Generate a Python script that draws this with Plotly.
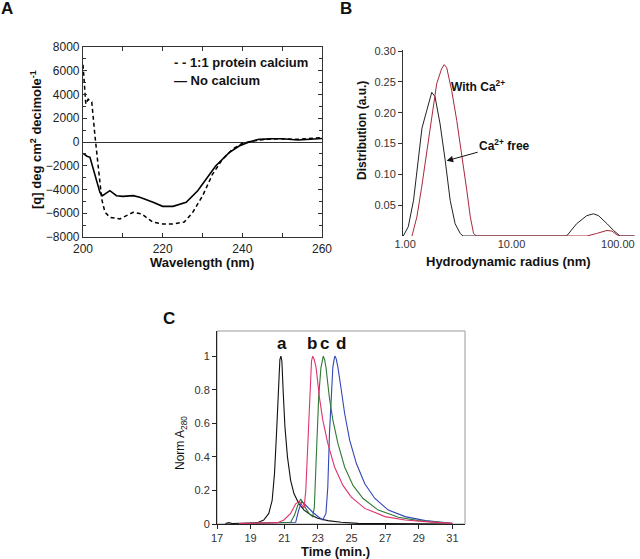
import plotly.graph_objects as go

W, H = 640, 559
FONT = "Liberation Sans, Arial, sans-serif"

# ---------------- Panel A: CD spectra ----------------
wl_nocal = [200, 200.25, 201.0, 201.75, 203.0, 204.25, 204.9, 206.75, 208.4, 210.0, 212.6, 214.25,
            217.6, 220.0, 222.6, 225.9, 228.8, 231.3, 233.3, 236.7, 239.2, 241.7, 244.2, 247.5,
            250, 254, 258, 260]
cd_nocal = [-950, -1010, -1200, -1290, -2840, -4240, -4520, -4100, -4520, -4580, -4520, -4660,
            -5080, -5420, -5420, -5080, -4100, -2980, -2020, -900, -340, 0, 225, 280,
            280, 170, 280, 300]

wl_cal = [200, 200.3, 200.7, 201.3, 201.8, 202.2, 203.0, 203.8, 204.7, 205.5, 206.75, 209.25,
          212.6, 214.7, 217.6, 220.0, 222.6, 225.4, 227.5, 230, 232.5, 235, 237.5, 240,
          242.5, 245.8, 249, 254, 260]
cd_cal = [6500, 5000, 3200, 3600, 3500, 3370, 530, -2000, -4800, -5900, -6340, -6480,
          -5920, -6060, -6760, -6900, -6900, -6740, -5950, -4550, -2720, -1460, -620, -110,
          80, 225, 280, 225, 365]

# ---------------- Panel B: DLS ----------------
r_free = [0.96, 1.07, 1.2, 1.33, 1.44, 1.6, 1.78, 1.91, 2.13, 2.38, 2.65, 2.95, 3.3, 3.5,
          10, 33, 41, 51, 59, 65.8, 79, 91, 105, 145]
d_free = [0, 0.015, 0.058, 0.128, 0.175, 0.204, 0.233, 0.226, 0.182, 0.123, 0.058, 0.02, 0.004, 0,
          0, 0, 0.02, 0.033, 0.036, 0.033, 0.02, 0.009, 0, 0]

r_ca = [1.16, 1.29, 1.43, 1.6, 1.78, 1.98, 2.2, 2.33, 2.46, 2.74, 3.06, 3.41, 3.8, 4.1, 4.4, 4.7,
        10, 51, 63, 79, 88, 98, 105, 140]
d_ca = [0, 0.031, 0.079, 0.139, 0.193, 0.247, 0.271, 0.278, 0.273, 0.236, 0.187, 0.133, 0.074,
        0.031, 0.004, 0, 0, 0, 0.004, 0.009, 0.008, 0.002, 0, 0]

# ---------------- Panel C: SEC ----------------
t_a = [17.5, 17.7, 17.9, 18.3, 18.6, 19.0, 19.4, 19.78, 20.08, 20.28, 20.42, 20.54, 20.64, 20.74,
       20.8, 20.86, 20.94, 21.04, 21.19, 21.38, 21.58, 21.88, 22.18, 22.59, 22.99, 23.59, 24.39,
       25.39, 27, 29, 31]
a_vals = [0.003, 0.008, 0.003, 0.004, 0.006, 0.008, 0.008, 0.024, 0.063, 0.14, 0.30, 0.54, 0.78, 0.98,
          1.0, 0.97, 0.78, 0.58, 0.40, 0.26, 0.18, 0.12, 0.083, 0.053, 0.034, 0.02, 0.01,
          0.004, 0.002, 0.001, 0.0]

t_b = [18.3, 19.0, 19.8, 20.6, 20.98, 21.38, 21.68, 21.88, 22.0, 22.18, 22.28, 22.4, 22.52, 22.62,
       22.69, 22.78, 22.89, 23.09, 23.29, 23.59, 23.99, 24.49, 24.99, 25.79, 26.99, 28.19, 29.39,
       30.59, 31.0]
b_vals = [0.003, 0.005, 0.006, 0.008, 0.024, 0.063, 0.12, 0.135, 0.12, 0.095, 0.2, 0.5, 0.82, 0.97,
          1.0, 0.98, 0.935, 0.756, 0.62, 0.48, 0.34, 0.23, 0.16, 0.093, 0.044, 0.024, 0.014,
          0.008, 0.004]

t_c = [19.0, 20.0, 20.8, 21.38, 21.6, 21.8, 21.98, 22.1, 22.3, 22.5, 22.69, 22.79, 22.89, 23.05,
       23.18, 23.25, 23.32, 23.4, 23.48, 23.68, 23.89, 24.19, 24.59, 25.09, 25.69, 26.59, 27.79,
       28.99, 30.19, 30.85]
c_vals = [0.004, 0.005, 0.006, 0.01, 0.05, 0.11, 0.149, 0.13, 0.09, 0.06, 0.044, 0.1, 0.36, 0.76,
          0.93, 0.976, 1.0, 0.98, 0.935, 0.756, 0.62, 0.48, 0.34, 0.23, 0.152, 0.083, 0.04,
          0.02, 0.01, 0.004]

t_d = [19.0, 20.5, 21.4, 21.68, 21.85, 22.04, 22.15, 22.29, 22.69, 23.0, 23.29, 23.48, 23.59, 23.69,
       23.79, 23.89, 23.99, 24.03, 24.1, 24.19, 24.39, 24.59, 24.89, 25.29, 25.79, 26.39, 27.19,
       28.19, 29.39, 30.59, 31.0]
d_vals = [0.004, 0.005, 0.006, 0.01, 0.08, 0.133, 0.125, 0.11, 0.07, 0.045, 0.024, 0.063, 0.22, 0.54,
          0.78, 0.935, 0.994, 1.0, 0.98, 0.935, 0.8, 0.66, 0.5, 0.36, 0.24, 0.152, 0.083,
          0.044, 0.02, 0.008, 0.004]

peak_labels = ["a", "b", "c", "d"]
peak_label_t = [20.88, 22.67, 23.42, 24.38]

b_ticks = [1, 10, 100]
b_ticktext = ["1.00", "10.00", "100.00"]
b_yticks = [0.05, 0.10, 0.15, 0.20, 0.25, 0.30]


def px(x):
    return x / W


def py(y):
    return 1 - y / H


fig = go.Figure()

# Panel A traces
fig.add_trace(go.Scatter(x=wl_cal, y=cd_cal, mode="lines", line=dict(color="black", width=1.5, dash="4px,3px"),
                         xaxis="x", yaxis="y", showlegend=False))
fig.add_trace(go.Scatter(x=wl_nocal, y=cd_nocal, mode="lines", line=dict(color="black", width=1.6),
                         xaxis="x", yaxis="y", showlegend=False))

# Panel B traces
fig.add_trace(go.Scatter(x=r_free, y=d_free, mode="lines", line=dict(color="#222222", width=1),
                         xaxis="x2", yaxis="y2", showlegend=False))
fig.add_trace(go.Scatter(x=r_ca, y=d_ca, mode="lines", line=dict(color="#a8283c", width=1),
                         xaxis="x2", yaxis="y2", showlegend=False))

# Panel C traces
for tt, vv, col in [(t_a, a_vals, "#111111"), (t_d, d_vals, "#3346b8"), (t_c, c_vals, "#2f7a35"),
                    (t_b, b_vals, "#e0336e")]:
    fig.add_trace(go.Scatter(x=tt, y=vv, mode="lines", line=dict(color=col, width=1.1),
                             xaxis="x3", yaxis="y3", showlegend=False))

tickfont = dict(family=FONT, size=12, color="#222")
tickfont_b = dict(family=FONT, size=11, color="#333")

layout = dict(
    width=W, height=H, margin=dict(l=0, r=0, t=0, b=0, pad=0), autosize=False,
    paper_bgcolor="white", plot_bgcolor="rgba(0,0,0,0)",
    font=dict(family=FONT, color="#222"),
    # Panel A
    xaxis=dict(domain=[px(83), px(322)], range=[200, 260], anchor="y", automargin=False,
               showline=True, linecolor="#333", linewidth=1.2, mirror="allticks",
               ticks="inside", ticklen=4, tickcolor="#333", dtick=20, tick0=200,
               minor=dict(dtick=10, ticks="inside", ticklen=4, tickcolor="#333"),
               showgrid=False, zeroline=False, tickfont=tickfont),
    yaxis=dict(domain=[py(237), py(47)], range=[-8000, 8000], anchor="x", automargin=False,
               showline=True, linecolor="#333", linewidth=1.2, mirror="allticks",
               ticks="inside", ticklen=4, tickcolor="#333", dtick=2000, tick0=0,
               minor=dict(dtick=1000, ticks="inside", ticklen=3, tickcolor="#333"),
               showgrid=False, zeroline=True, zerolinecolor="#333", zerolinewidth=1.2,
               tickfont=tickfont),
    # Panel B
    xaxis2=dict(domain=[px(403), px(637)], type="log", range=[-0.02, 2.18], anchor="y2",
                automargin=False, showline=False, ticks="", tickvals=b_ticks, ticktext=b_ticktext,
                showgrid=False, zeroline=False, tickfont=tickfont_b),
    yaxis2=dict(domain=[py(236), py(49.8)], range=[0, 0.302], anchor="x2", automargin=False,
                showline=True, linecolor="#333", linewidth=1, ticks="outside", ticklen=4,
                tickcolor="#333", tickvals=b_yticks, tickformat=".2f",
                showgrid=False, zeroline=False, tickfont=tickfont_b),
    # Panel C
    xaxis3=dict(domain=[px(217), px(465)], range=[17, 31.75], anchor="y3", automargin=False,
                showline=True, linecolor="#222", linewidth=1, ticks="outside", ticklen=4,
                tickcolor="#222", dtick=2, tick0=17, showgrid=False, zeroline=False,
                tickfont=tickfont_b),
    yaxis3=dict(domain=[py(524), py(331)], range=[0, 1.15], anchor="x3", automargin=False,
                showline=True, linecolor="#222", linewidth=1, ticks="outside", ticklen=4,
                tickcolor="#222", dtick=0.2, tick0=0, showgrid=False, zeroline=False,
                tickfont=tickfont_b),
)
fig.update_layout(**layout)

# gray frame for panel C
fig.add_shape(type="rect", xref="x3 domain", yref="y3 domain", x0=0, x1=1, y0=0, y1=1,
              line=dict(color="#9a9a9a", width=1), layer="below")

ann = []


def paper_text(txt, x, y, size=13, bold=True, angle=0, anchor="center"):
    f = dict(family=FONT, size=size, color="#111")
    if bold:
        f["weight"] = "bold"
    return dict(text=txt, x=px(x), y=py(y), xref="paper", yref="paper", showarrow=False,
                xanchor=anchor, yanchor="middle", textangle=angle, font=f)


# panel letters
ann.append(paper_text("A", 7, 9, size=17))
ann.append(paper_text("B", 346, 9, size=17))
ann.append(paper_text("C", 169, 318, size=17))
# axis titles
ann.append(paper_text("[q] deg cm<sup>2</sup> decimole<sup>-1</sup>", 36, 140, angle=-90))
ann.append(paper_text("Wavelength (nm)", 202, 262))
ann.append(paper_text("Distribution (a.u.)", 362, 131, size=12, angle=-90))
ann.append(paper_text("Hydrodynamic radius (nm)", 508, 261))
ann.append(paper_text("Norm A<sub>280</sub>", 181, 443, size=12, bold=False, angle=-90))
ann.append(paper_text("Time (min.)", 335, 551))
# panel A legend
ann.append(paper_text("- - 1:1 protein calcium", 172, 62, anchor="left"))
ann.append(paper_text("— No calcium", 172, 80, anchor="left"))
# panel B labels
ann.append(dict(text="With Ca<sup>2+</sup>", x=0.685, y=0.243, xref="x2", yref="y2", xanchor="center",
                showarrow=False, font=dict(family=FONT, size=12, color="#111", weight="bold")))
ann.append(dict(text="Ca<sup>2+</sup> free", x=0.39, y=0.122, xref="x2", yref="y2",
                ax=58, ay=-16, showarrow=True, arrowhead=2, arrowsize=1.3, arrowwidth=1,
                arrowcolor="#111", font=dict(family=FONT, size=12, color="#111", weight="bold")))
# panel C peak labels
for lab, tl in zip(peak_labels, peak_label_t):
    ann.append(dict(text=lab, x=tl, y=1.075, xref="x3", yref="y3", showarrow=False,
                    font=dict(family=FONT, size=17, color="#111", weight="bold")))
fig.update_layout(annotations=ann)

fig.write_html("out.html", config={"displayModeBar": False},
               post_script="document.body.style.margin='0';")
